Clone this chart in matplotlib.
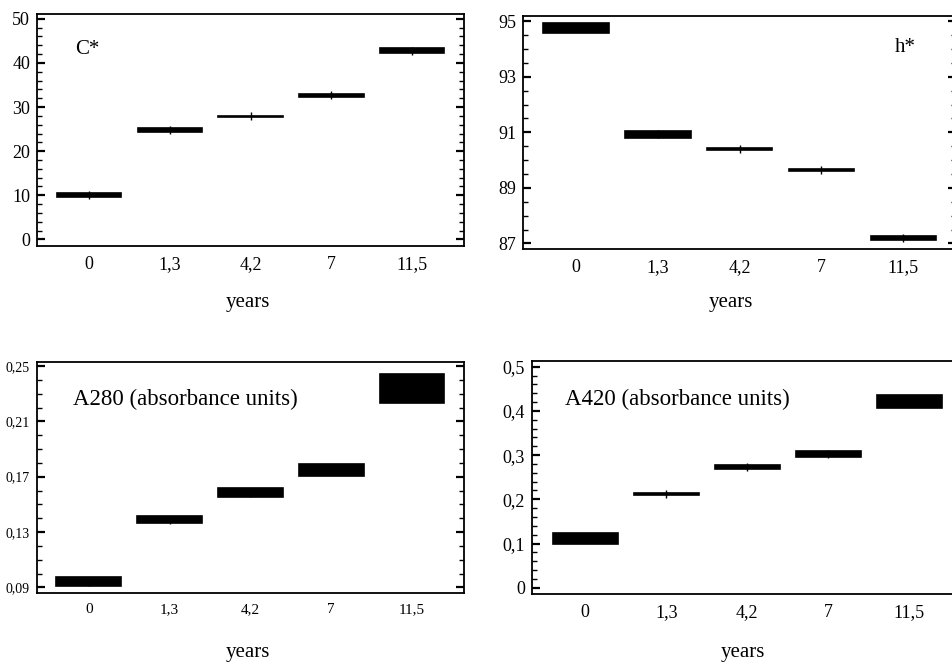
import matplotlib
matplotlib.use("Agg")
import numpy as np
import matplotlib.pyplot as plt
from matplotlib.ticker import FixedLocator, FuncFormatter

plt.rcParams['font.family'] = ['Liberation Serif', 'DejaVu Serif']

# categories (years of ageing)
years = ['0', '1,3', '4,2', '7', '11,5']

# mean values and half-width of the interval boxes
c_mean = [10.1, 24.8, 27.9, 32.7, 42.8]
c_half = [0.4, 0.35, 0.1, 0.35, 0.5]

h_mean = [94.75, 90.93, 90.40, 89.64, 87.19]
h_half = [0.17, 0.12, 0.04, 0.03, 0.06]

a280_mean = [0.094, 0.139, 0.1585, 0.175, 0.234]
a280_half = [0.0032, 0.0023, 0.0033, 0.0045, 0.0104]

a420_mean = [0.1105, 0.2127, 0.273, 0.3018, 0.421]
a420_half = [0.0125, 0.002, 0.004, 0.007, 0.015]


def comma_fmt(dec):
    def f(v, pos):
        if abs(v) < 1e-9:
            return '0'
        s = ('%.' + str(dec) + 'f') % v
        return s.replace('.', ',')
    return FuncFormatter(f)


def mean_panel(ax, means, halfs, ylim, start, major, minor, dec,
               tsize=13, xsize=13, xpad=7.5):
    x = list(range(len(years)))
    lows = [m - h for m, h in zip(means, halfs)]
    ax.bar(x, [2 * h for h in halfs], bottom=lows, width=0.8,
           color='black', edgecolor='black', linewidth=1.2)
    ax.plot(x, means, linestyle='none', marker='|', color='black',
            markersize=5.5, markeredgewidth=1)
    ax.set_xlim(-0.645, 4.645)
    ax.set_ylim(*ylim)
    ax.set_xticks(x)
    ax.set_xticklabels(years)
    majors = np.arange(start, ylim[1] + 1e-9, major)
    minors = np.arange(start - major, ylim[1] + 1e-9, minor)
    minors = [m for m in minors if m >= ylim[0]]
    ax.yaxis.set_major_locator(FixedLocator(majors))
    ax.yaxis.set_minor_locator(FixedLocator(minors))
    ax.yaxis.set_major_formatter(comma_fmt(dec))
    ax.tick_params(axis='x', length=0, pad=xpad, labelsize=xsize)
    ax.tick_params(axis='y', which='major', direction='in', length=6,
                   width=1.6, left=True, right=True, labelsize=tsize, pad=5)
    ax.tick_params(axis='y', which='minor', direction='in', length=3.5,
                   width=1, left=True, right=True)
    for sp in ax.spines.values():
        sp.set_linewidth(1.3)


fig = plt.figure(figsize=(9.52, 6.62), dpi=100)

ax1 = fig.add_axes([0.0389, 0.6284, 0.4485, 0.3505])
mean_panel(ax1, c_mean, c_half, (-1.5, 51.1), 0, 10, 2, 0)
ax1.text(0.118, 0.845, 'C*', transform=ax1.transAxes, fontsize=15,
         ha='center', va='center')

ax2 = fig.add_axes([0.5497, 0.6239, 0.4545, 0.3524])
mean_panel(ax2, h_mean, h_half, (86.8, 95.2), 87, 2, 0.5, 0)
ax2.text(0.882, 0.865, 'h*', transform=ax2.transAxes, fontsize=15,
         ha='center', va='center')

ax3 = fig.add_axes([0.0385, 0.1038, 0.4492, 0.3498])
mean_panel(ax3, a280_mean, a280_half, (0.0857, 0.2531), 0.09, 0.04, 0.01, 2,
           tsize=10, xsize=11, xpad=7)
ax3.text(0.347, 0.835, 'A280 (absorbance units)', transform=ax3.transAxes,
         fontsize=16.5, ha='center', va='center')

ax4 = fig.add_axes([0.5588, 0.1027, 0.4517, 0.3524])
mean_panel(ax4, a420_mean, a420_half, (-0.0143, 0.5136), 0, 0.1, 0.02, 1)
ax4.set_xlim(-0.658, 4.65)
ax4.text(0.337, 0.835, 'A420 (absorbance units)', transform=ax4.transAxes,
         fontsize=16.5, ha='center', va='center')

# axis titles
fig.text(248 / 952, 1 - 303 / 662, 'years', fontsize=15, ha='center', va='center')
fig.text(731 / 952, 1 - 303 / 662, 'years', fontsize=15, ha='center', va='center')
fig.text(248 / 952, 1 - 652 / 662, 'years', fontsize=15, ha='center', va='center')
fig.text(743 / 952, 1 - 652 / 662, 'years', fontsize=15, ha='center', va='center')

fig.savefig('out.png', dpi=100)
